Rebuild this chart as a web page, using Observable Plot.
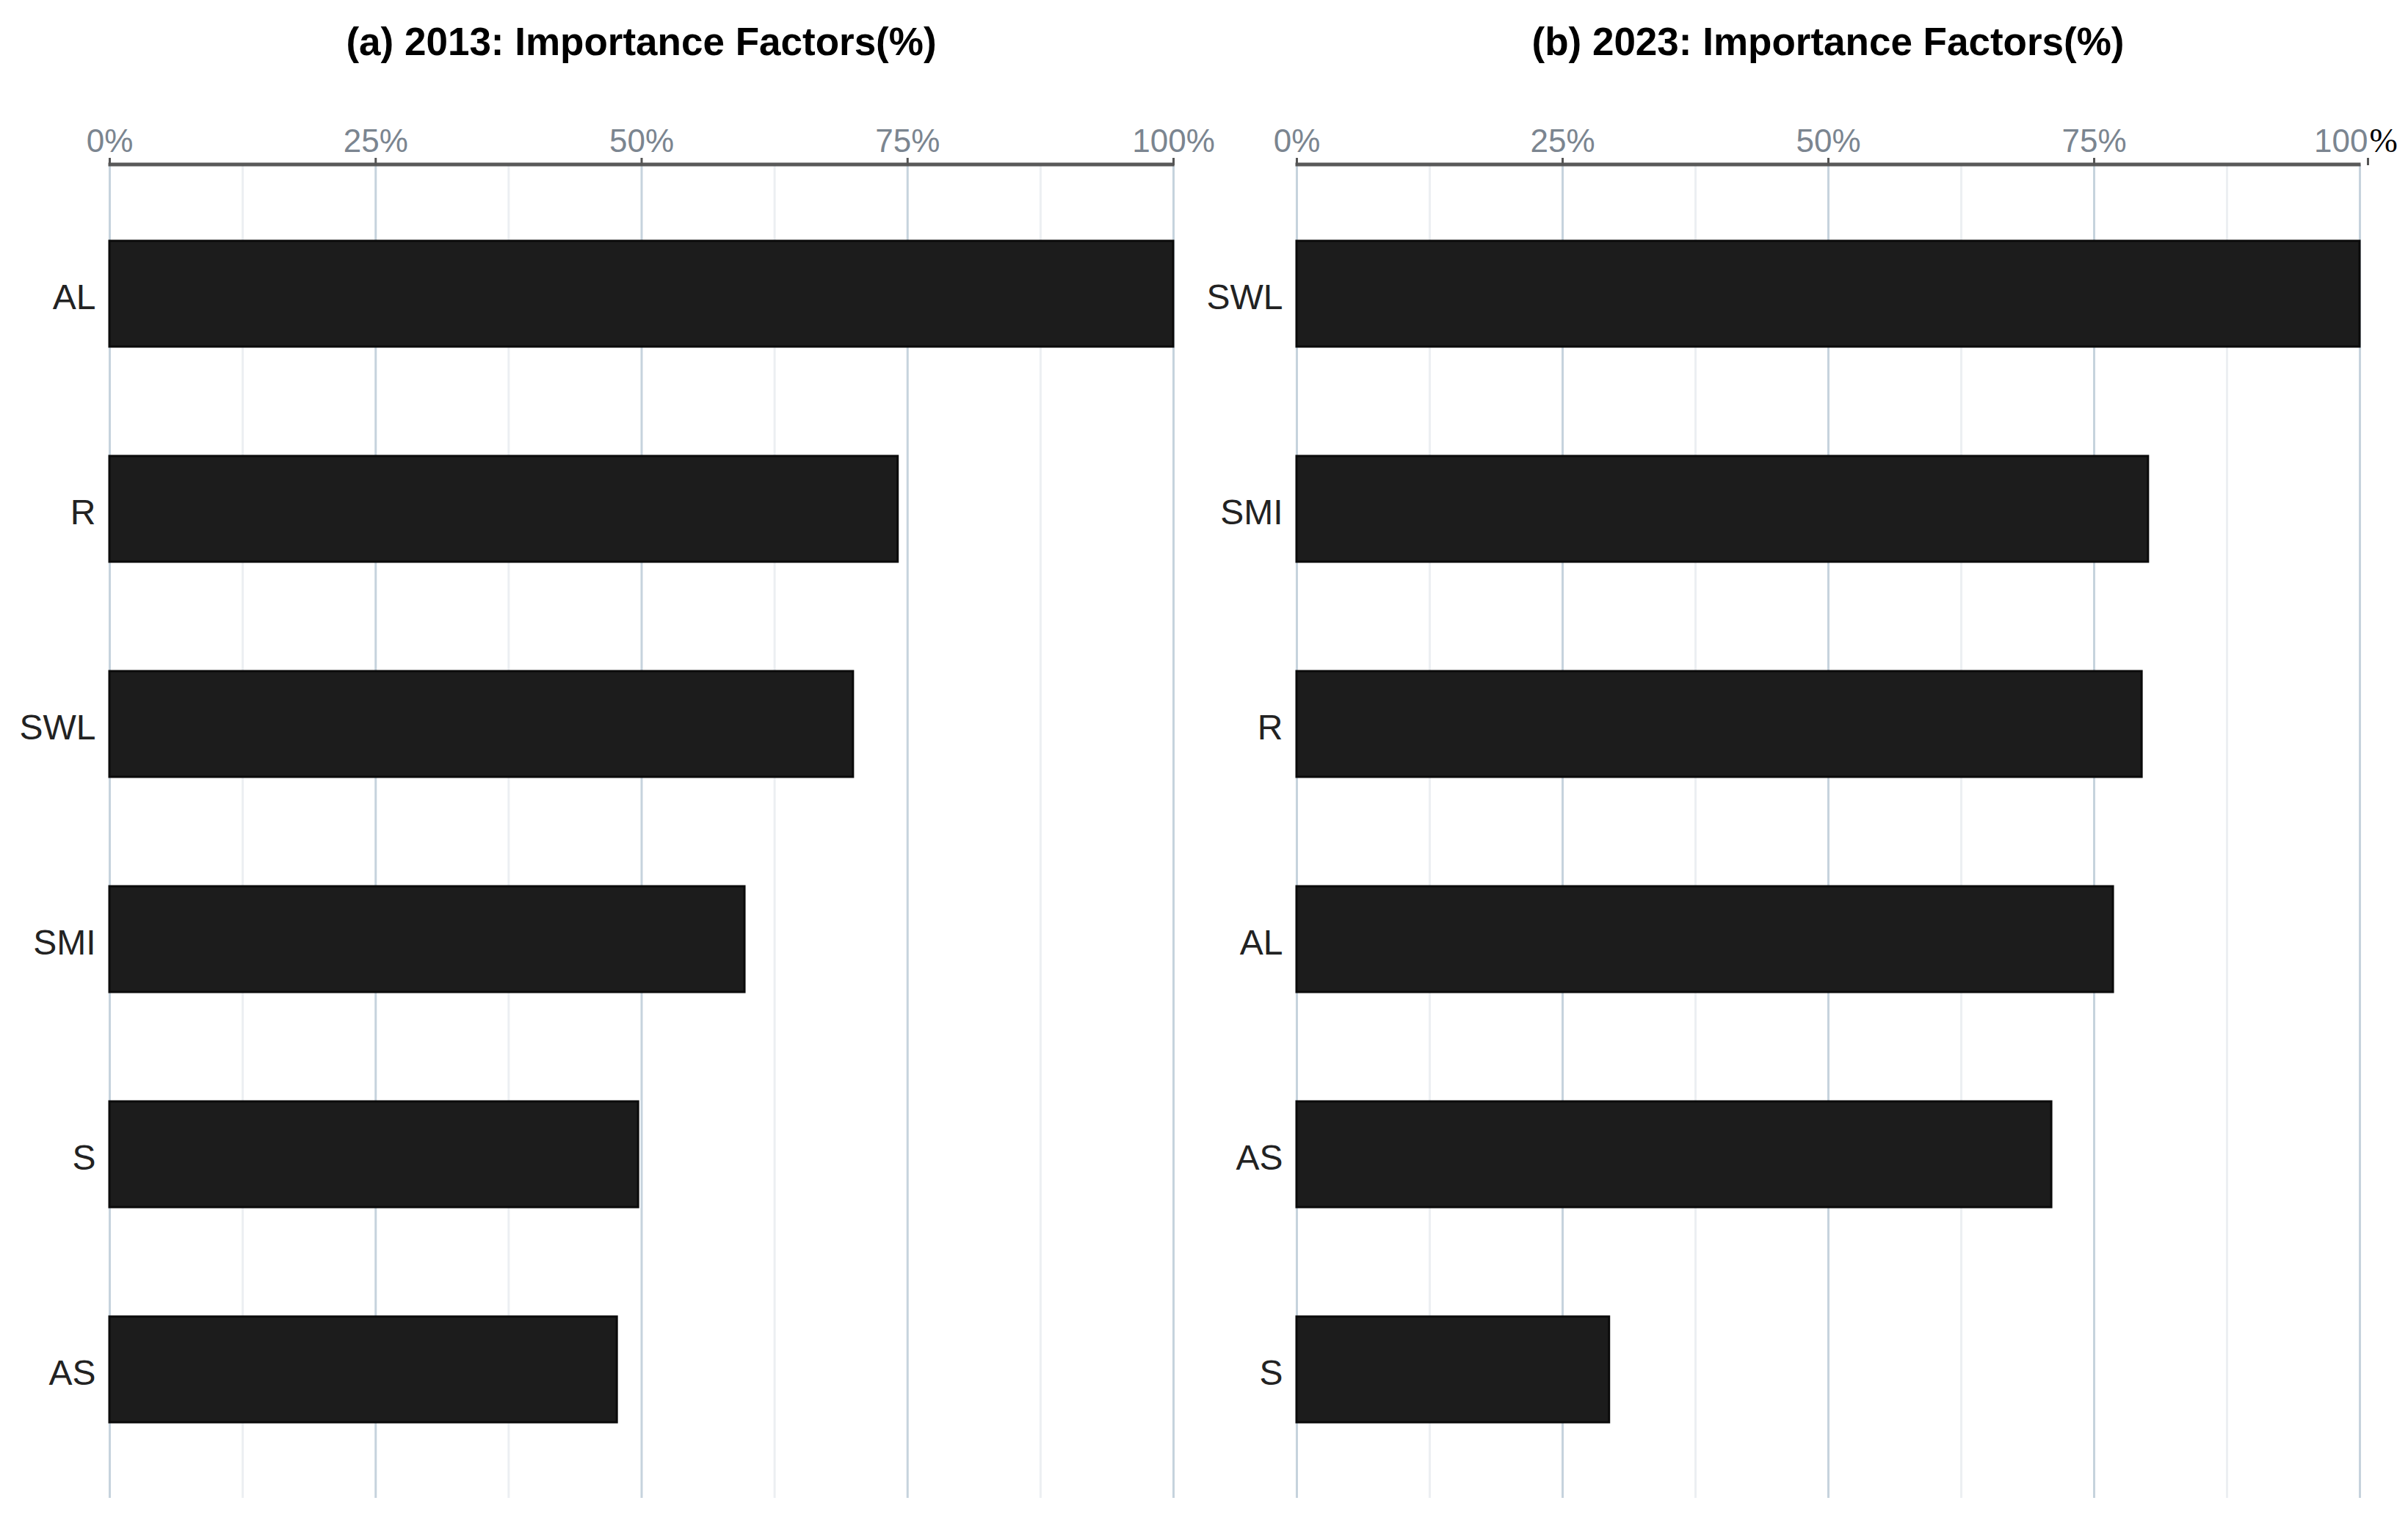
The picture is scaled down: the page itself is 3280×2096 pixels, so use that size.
<!DOCTYPE html>
<html><head><meta charset="utf-8">
<script src="https://cdn.jsdelivr.net/npm/d3@7"></script>
<script src="https://cdn.jsdelivr.net/npm/@observablehq/plot@0.6"></script>
<style>
html,body{margin:0;padding:0;background:#fff;}
#wrap{position:relative;width:3280px;height:2096px;overflow:hidden;}
.panel{position:absolute;top:0;width:1640px;}
.title{height:112px;display:flex;align-items:center;justify-content:center;font:bold 53px "Liberation Sans",Arial,sans-serif;color:#000;box-sizing:border-box;}
.panel svg{overflow:visible;max-width:none;}
</style></head><body>
<div id="wrap">
  <div class="panel" id="p1" style="left:0"></div>
  <div class="panel" id="p2" style="left:1640px"></div>
</div>
<script>
const factors2013 = ["AL", "R", "SWL", "SMI", "S", "AS"];
const values2013 = [100, 74.1, 69.9, 59.7, 49.7, 47.7];
const factors2023 = ["SWL", "SMI", "R", "AL", "AS", "S"];
const values2023 = [100, 80.1, 79.5, 76.8, 71.0, 29.4];
const majorTicks = [0, 25, 50, 75, 100];
const minorTicks = [12.5, 37.5, 62.5, 87.5];
const titles = ["(a) 2013: Importance Factors(%)", "(b) 2023: Importance Factors(%)"];

const FONT = "'Liberation Sans', Arial, sans-serif";

function axisLine(index, scales, values, dims) {
  const l = document.createElementNS("http://www.w3.org/2000/svg", "line");
  l.setAttribute("x1", scales.x(0) - 1.5);
  l.setAttribute("x2", scales.x(100) + 1.5);
  l.setAttribute("y1", dims.marginTop);
  l.setAttribute("y2", dims.marginTop);
  l.setAttribute("stroke", "#595959");
  l.setAttribute("stroke-width", 5);
  return l;
}

function panel(el, title, factors, values, marginLeft, marginRight, isRight) {
  const data = factors.map((f, i) => ({factor: f, value: values[i]}));
  const t = document.createElement("div");
  t.className = "title";
  t.style.paddingLeft = marginLeft + "px";
  t.style.paddingRight = marginRight + "px";
  t.textContent = title;
  el.appendChild(t);

  const tickFill = "#7b8590";
  const common = {anchor: "top", tickSize: 10, tickPadding: 8, fontSize: 44,
    stroke: "#555", fill: tickFill, strokeWidth: 3, label: null};
  const marks = [
    Plot.gridX(minorTicks, {stroke: "#eceff2", strokeWidth: 3, strokeOpacity: 1}),
    Plot.gridX(majorTicks, {stroke: "#c6d3dd", strokeWidth: 3, strokeOpacity: 1}),
    Plot.barX(data, {x: "value", y: "factor", fill: "#1c1c1c", stroke: "#0b0b0b", strokeWidth: 3}),
    Plot.axisY({anchor: "left", tickSize: 0, tickPadding: 19, fontSize: 48, color: "#222", dy: 5, label: null}),
    axisLine
  ];
  if (!isRight) {
    marks.push(Plot.axisX(majorTicks, {...common, tickFormat: d => d + "%"}));
  } else {
    marks.push(Plot.axisX(majorTicks.slice(0, 4), {...common, tickFormat: d => d + "%"}));
    marks.push(Plot.axisX([100], {...common, tickFormat: d => String(d), textAnchor: "end", dx: 11}));
    marks.push(Plot.text([{v: 100, s: "%"}], {x: "v", text: "s", frameAnchor: "top", lineAnchor: "middle",
      dy: -32, dx: 13, textAnchor: "start",
      fontFamily: "'Liberation Serif', 'Times New Roman', serif", fontSize: 46, fill: "#000"}));
  }

  const svg = Plot.plot({
    width: 1640,
    height: 1984,
    marginTop: 112,
    marginBottom: 56,
    marginLeft,
    marginRight,
    style: {fontFamily: FONT, background: "transparent", overflow: "visible"},
    x: {domain: [0, 100], axis: null, label: null},
    y: {domain: factors, paddingInner: 0.51, paddingOuter: 0.35, axis: null, label: null},
    marks
  });
  el.appendChild(svg);
}

panel(document.getElementById("p1"), titles[0], factors2013, values2013, 149, 42, false);
panel(document.getElementById("p2"), titles[1], factors2023, values2023, 126, 66, true);
</script>
</body></html>
